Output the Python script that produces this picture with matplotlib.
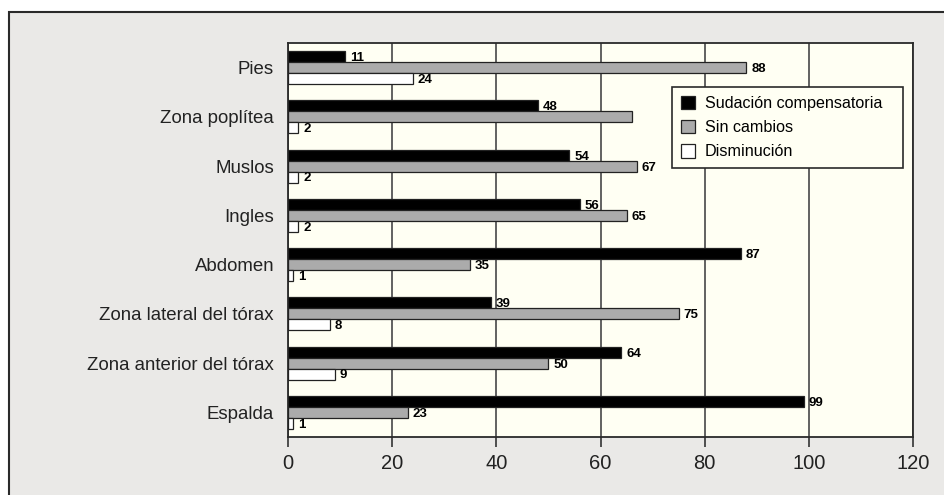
import matplotlib.pyplot as plt
from matplotlib.patches import Rectangle
import numpy as np

plt.rcParams['font.family'] = ['Liberation Sans', 'DejaVu Sans']

zonas = ['Espalda', 'Zona anterior del tórax', 'Zona lateral del tórax', 'Abdomen',
         'Ingles', 'Muslos', 'Zona poplítea', 'Pies']
sudacion = [99, 64, 39, 87, 56, 54, 48, 11]
sin_cambios = [23, 50, 75, 35, 65, 67, 66, 88]
disminucion = [1, 9, 8, 1, 2, 2, 2, 24]
# the gray bar for Zona poplítea carries no number
sin_label = [True, True, True, True, True, True, False, True]

fig = plt.figure(figsize=(9.44, 4.95), dpi=100)
fig.patch.set_facecolor('white')
fig.patches.append(Rectangle((9 / 944, -0.2), 1.2, 1.2 - 12 / 495,
                             transform=fig.transFigure, facecolor='#eae9e7',
                             edgecolor='#2a2a2a', linewidth=1.5, zorder=-10))

ax = fig.add_axes([288 / 944, 1 - 437 / 495, 625 / 944, 394 / 495])
ax.set_facecolor('#fffff3')

y = np.arange(len(zonas))
h = 0.222
series = [(sudacion, '#000000', 'Sudación compensatoria', h),
          (sin_cambios, '#ababab', 'Sin cambios', 0),
          (disminucion, '#ffffff', 'Disminución', -h)]

for i, (vals, col, lab, off) in enumerate(series):
    ax.barh(y + off, vals, height=h, color=col, edgecolor='#222222',
            linewidth=0.9, label=lab, zorder=3)
    for j, v in enumerate(vals):
        if i == 1 and not sin_label[j]:
            continue
        ax.annotate(str(v), (v, y[j] + off), xytext=(3.5, -1), textcoords='offset points',
                    ha='left', va='center', fontsize=9.5, fontweight='bold', zorder=4)

ax.set_xlim(0, 120)
ax.set_ylim(-0.5, len(zonas) - 0.5)
ax.set_xticks(np.arange(0, 121, 20))
ax.set_yticks(y)
ax.set_yticklabels(zonas)
ax.tick_params(axis='y', length=0, pad=10, labelsize=13.4, labelcolor='#222222')
ax.tick_params(axis='x', length=7, width=1.2, color='#333333', pad=5,
               labelsize=14.5, labelcolor='#222222')
ax.xaxis.grid(True, color='#555555', linewidth=1.3, zorder=1)
ax.set_axisbelow(True)
for s in ax.spines.values():
    s.set_color('#2a2a2a')
    s.set_linewidth(1.3)

# legend box spans 231 px wide starting 384 px into the axes
leg = ax.legend(loc='upper left', bbox_to_anchor=(0.614, 0.688, 231 / 625, 0.2),
                mode='expand', borderaxespad=0,
                fancybox=False, framealpha=1, fontsize=11.6, handlelength=0.9,
                handleheight=0.9, handletextpad=0.6, labelspacing=0.55,
                borderpad=0.55)
leg.get_frame().set_edgecolor('#2a2a2a')
leg.get_frame().set_facecolor('#fffff3')
leg.get_frame().set_linewidth(1.2)

fig.savefig('out.png', dpi=100)
